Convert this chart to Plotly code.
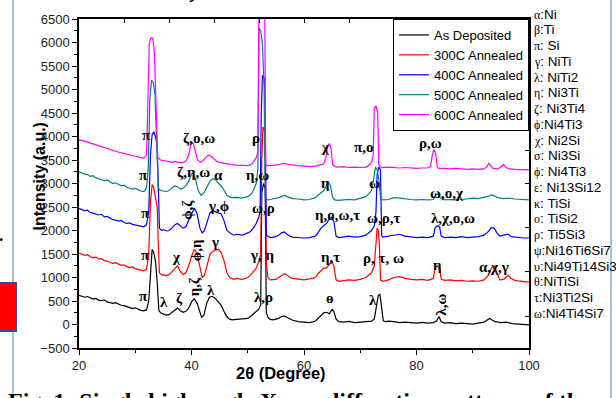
import plotly.graph_objects as go

# ---------------- data ----------------
as_deposited = [
    (20, 620), (20.5, 600), (21, 580), (21.5, 595), (22, 560), (22.5, 540), (23, 555), (23.5, 520),
    (24, 510), (24.5, 525), (25, 480), (25.5, 470), (26, 450), (26.5, 465), (27, 430), (27.5, 410),
    (28, 400), (28.5, 380), (29, 360), (29.5, 340), (30, 355), (30.5, 320), (31, 300), (31.5, 290),
    (32, 310), (32.4, 500), (32.7, 1200), (33.0, 1600), (33.3, 1520), (33.6, 1350), (33.9, 900),
    (34.2, 300), (34.5, 250), (35, 230), (35.5, 200), (36, 210), (36.5, 260), (37, 320), (37.5, 350),
    (38, 300), (38.5, 260), (39, 280), (39.5, 350), (40, 480), (40.5, 550), (41, 450), (41.5, 250),
    (41.8, 150), (42.2, 200), (42.7, 450), (43.2, 580), (43.7, 600), (44.2, 560), (44.7, 500),
    (45.2, 420), (45.7, 300), (46.2, 180), (46.7, 120), (47.2, 100), (48, 110), (49, 120), (50, 130),
    (50.5, 170), (51, 230), (51.5, 280), (52, 330), (52.3, 420), (52.5, 2800), (52.8, 3000),
    (53.1, 2900), (53.3, 250), (53.6, 150), (54, 110), (54.5, 100), (55, 115), (55.5, 130),
    (56, 170), (56.5, 185), (57, 150), (57.5, 120), (58, 90), (59, 60), (60, 50), (61, 40), (62, 70),
    (62.5, 130), (63, 200), (63.5, 250), (64, 260), (64.5, 230), (65, 320), (65.3, 280), (65.7, 120),
    (66.2, 60), (67, 50), (68, 65), (69, 40), (70, 50), (71, 60), (72, 70), (72.5, 120), (72.9, 400),
    (73.2, 620), (73.5, 640), (73.8, 350), (74.1, 80), (74.5, 60), (75, 70), (76, 60), (77, 40),
    (78, 50), (79, 40), (80, 30), (81, 45), (82, 30), (83, 40), (83.6, 80), (84, 170), (84.4, 60),
    (85, 30), (86, 40), (87, 20), (88, 30), (89, 20), (90, 10), (91, 30), (92, 50), (92.5, 90),
    (93, 130), (93.5, 90), (94, 60), (95, 40), (96, 50), (97, 20), (98, 10), (99, 0), (100, -10),
]

annealed_300 = [
    (20, 1520), (20.5, 1490), (21, 1470), (21.5, 1485), (22, 1440), (22.5, 1420), (23, 1435),
    (23.5, 1390), (24, 1400), (24.5, 1360), (25, 1350), (25.5, 1320), (26, 1300), (26.5, 1315),
    (27, 1280), (27.5, 1260), (28, 1270), (28.5, 1230), (29, 1210), (29.5, 1225), (30, 1190),
    (30.5, 1170), (31, 1160), (31.5, 1140), (32, 1180), (32.4, 1500), (32.7, 2600), (33.0, 2980),
    (33.3, 2900), (33.6, 2700), (33.9, 2500), (34.1, 1700), (34.3, 1100), (34.7, 1050), (35, 1060),
    (35.5, 1040), (36, 1060), (36.5, 1120), (37, 1180), (37.5, 1250), (38, 1130), (38.5, 1060),
    (39, 1100), (39.5, 1250), (40, 1450), (40.5, 1600), (41, 1500), (41.5, 1200), (41.9, 1000),
    (42.3, 1050), (42.8, 1300), (43.3, 1500), (43.8, 1560), (44.3, 1580), (44.8, 1600), (45.3, 1520),
    (45.8, 1350), (46.3, 1100), (46.8, 1000), (47.5, 960), (48, 980), (49, 960), (50, 1000),
    (50.5, 1050), (51, 1120), (51.5, 1200), (52, 1350), (52.3, 1500), (52.5, 3500), (52.7, 4200),
    (52.9, 4150), (53.1, 4000), (53.3, 1300), (53.6, 1000), (54, 950), (55, 960), (55.5, 1000),
    (56, 1050), (56.5, 1080), (57, 1050), (57.5, 1000), (58, 980), (59, 960), (60, 950), (61, 970),
    (62, 1000), (62.5, 1080), (63, 1150), (63.5, 1200), (64, 1200), (64.5, 1300), (64.9, 1350),
    (65.3, 1250), (65.7, 950), (66.2, 920), (67, 930), (68, 950), (69, 940), (70, 960), (71, 1000),
    (71.5, 1050), (72, 1100), (72.5, 1250), (72.8, 1700), (73.0, 2050), (73.2, 2000), (73.4, 1700),
    (73.6, 950), (74, 920), (75, 950), (76, 1000), (77, 1020), (78, 980), (79, 960), (80, 950),
    (81, 960), (82, 940), (83, 980), (83.3, 1200), (83.7, 1250), (84.1, 1200), (84.4, 960),
    (85, 940), (86, 950), (87, 930), (88, 940), (89, 920), (90, 930), (91, 920), (92, 950),
    (92.8, 1050), (93.3, 1200), (93.8, 1250), (94.3, 1100), (94.8, 950), (95.5, 960), (96.3, 1050),
    (96.8, 980), (97.5, 940), (98, 930), (99, 910), (100, 900),
]

annealed_400 = [
    (20, 2470), (20.5, 2440), (21, 2420), (21.5, 2435), (22, 2380), (22.5, 2370), (23, 2350),
    (23.5, 2330), (24, 2345), (24.5, 2290), (25, 2300), (25.5, 2260), (26, 2230), (26.5, 2220),
    (27, 2200), (27.5, 2215), (28, 2170), (28.5, 2150), (29, 2160), (29.5, 2130), (30, 2120),
    (30.5, 2100), (31, 2090), (31.5, 2080), (32, 2120), (32.4, 2400), (32.7, 3600), (33.0, 4050),
    (33.3, 4100), (33.6, 4000), (33.9, 3800), (34.1, 2500), (34.3, 2050), (34.7, 2000), (35, 2020),
    (35.5, 1990), (36, 2000), (36.5, 2050), (37, 2120), (37.5, 2150), (38, 2100), (38.5, 2050),
    (39, 2080), (39.5, 2200), (40, 2350), (40.5, 2480), (41, 2350), (41.5, 2050), (41.9, 1950),
    (42.3, 2000), (42.8, 2200), (43.3, 2380), (43.8, 2420), (44.3, 2400), (44.8, 2380), (45.3, 2350),
    (45.8, 2200), (46.3, 2000), (46.8, 1950), (47.5, 1900), (48, 1920), (49, 1900), (50, 1950),
    (50.5, 1980), (51, 2050), (51.5, 2150), (52, 2300), (52.2, 2400), (52.4, 4500), (52.6, 5300),
    (52.8, 5280), (53.0, 5200), (53.3, 1900), (53.6, 1880), (54, 1850), (55, 1870), (55.5, 1900),
    (56, 1950), (56.5, 1970), (57, 1920), (57.5, 1880), (58, 1860), (59, 1850), (60, 1840),
    (61, 1850), (62, 1880), (62.5, 1950), (63, 2050), (63.5, 2100), (64, 2150), (64.5, 2250),
    (64.9, 2280), (65.3, 2200), (65.7, 1880), (66.2, 1850), (67, 1860), (68, 1880), (69, 1860),
    (70, 1870), (71, 1900), (71.5, 1950), (72, 2000), (72.5, 2100), (72.8, 2400), (73.0, 3200),
    (73.3, 3350), (73.6, 3300), (73.8, 1900), (74, 1860), (75, 1880), (76, 1900), (77, 1920),
    (78, 1880), (79, 1860), (80, 1850), (81, 1860), (82, 1850), (83, 1880), (83.3, 2050),
    (83.7, 2100), (84.1, 2080), (84.4, 1880), (85, 1850), (86, 1860), (87, 1850), (88, 1870),
    (89, 1850), (90, 1860), (91, 1870), (92, 1900), (92.8, 1980), (93.3, 2060), (93.8, 2050),
    (94.3, 1950), (94.8, 1880), (95.5, 1900), (96.3, 1920), (96.8, 1870), (97.5, 1860), (98, 1850),
    (99, 1840), (100, 1840),
]

annealed_500 = [
    (20, 3250), (20.5, 3220), (21, 3200), (21.5, 3190), (22, 3150), (22.5, 3165), (23, 3120),
    (23.5, 3100), (24, 3080), (24.5, 3060), (25, 3075), (25.5, 3030), (26, 3000), (26.5, 3015),
    (27, 2980), (27.5, 2950), (28, 2965), (28.5, 2920), (29, 2900), (29.5, 2880), (30, 2895),
    (30.5, 2860), (31, 2840), (31.5, 2830), (32, 2900), (32.3, 3300), (32.6, 4800), (32.9, 5200),
    (33.2, 5150), (33.5, 4900), (33.8, 4000), (34.1, 2900), (34.5, 2850), (35, 2840), (35.5, 2830),
    (36, 2850), (36.5, 2900), (37, 2950), (37.5, 2930), (38, 2880), (38.5, 2900), (39, 2950),
    (39.5, 3050), (40, 3200), (40.3, 3230), (40.7, 3100), (41.2, 2850), (41.7, 2750), (42.2, 2800),
    (42.8, 2950), (43.3, 3050), (43.8, 3100), (44.3, 3080), (44.8, 3000), (45.3, 2950),
    (45.8, 2850), (46.3, 2750), (47, 2700), (48, 2705), (49, 2690), (50, 2720), (50.5, 2760),
    (51, 2850), (51.5, 3000), (51.8, 3300), (52.0, 6300), (52.3, 6250), (52.6, 6000), (52.9, 5100),
    (53.1, 2700), (53.5, 2650), (54, 2660), (55, 2680), (55.5, 2700), (56, 2720), (56.5, 2750),
    (57, 2720), (57.5, 2700), (58, 2680), (59, 2670), (60, 2650), (61, 2660), (62, 2700),
    (62.5, 2750), (63, 2800), (63.5, 2850), (64, 2950), (64.3, 3050), (64.7, 2950), (65.1, 2700),
    (65.5, 2650), (66, 2640), (67, 2650), (68, 2660), (69, 2650), (70, 2680), (71, 2720),
    (71.5, 2780), (72, 2850), (72.4, 3100), (72.7, 3350), (73.0, 3300), (73.3, 3100), (73.6, 2700),
    (74, 2650), (75, 2660), (76, 2700), (77, 2690), (78, 2670), (79, 2660), (80, 2650), (81, 2660),
    (82, 2650), (83, 2660), (83.4, 2760), (83.8, 2780), (84.2, 2700), (85, 2650), (86, 2660),
    (87, 2650), (88, 2660), (89, 2680), (90, 2690), (91, 2680), (92, 2700), (92.8, 2730),
    (93.3, 2760), (93.8, 2740), (94.5, 2700), (95.5, 2680), (96.5, 2690), (97.5, 2670),
    (98.5, 2660), (99, 2650), (100, 2650),
]

annealed_600 = [
    (20, 3930), (20.5, 3920), (21, 3900), (21.5, 3880), (22, 3860), (22.5, 3850), (23, 3820),
    (23.5, 3800), (24, 3790), (24.5, 3760), (25, 3750), (25.5, 3720), (26, 3700), (26.5, 3690),
    (27, 3670), (27.5, 3650), (28, 3640), (28.5, 3620), (29, 3600), (29.5, 3590), (30, 3580),
    (30.5, 3560), (31, 3550), (31.5, 3540), (32, 3600), (32.2, 4500), (32.5, 6000), (32.8, 6100),
    (33.1, 6100), (33.4, 5800), (33.7, 4500), (34.0, 3550), (34.5, 3500), (35, 3490), (35.5, 3470),
    (36, 3460), (36.5, 3450), (37, 3470), (37.5, 3460), (38, 3440), (38.5, 3450), (39, 3480),
    (39.5, 3600), (39.9, 3850), (40.3, 3860), (40.7, 3700), (41.1, 3500), (41.6, 3450), (42, 3480),
    (42.5, 3550), (43, 3600), (43.5, 3580), (44, 3520), (44.5, 3470), (45, 3450), (46, 3420),
    (47, 3400), (48, 3390), (49, 3380), (50, 3380), (50.5, 3400), (51, 3450), (51.5, 3550),
    (51.8, 3650), (52.0, 7000), (52.5, 7000), (53.0, 7000), (53.2, 3400), (53.5, 3380), (54, 3380),
    (55, 3390), (55.5, 3400), (56, 3420), (56.5, 3430), (57, 3410), (57.5, 3400), (58, 3390),
    (59, 3380), (60, 3370), (61, 3360), (62, 3370), (62.5, 3380), (63, 3400), (63.5, 3420),
    (63.9, 3550), (64.2, 3800), (64.5, 3850), (64.8, 3750), (65.1, 3400), (65.5, 3360), (66, 3350),
    (67, 3360), (68, 3340), (69, 3350), (70, 3340), (71, 3350), (71.5, 3380), (72, 3450),
    (72.3, 3600), (72.5, 4600), (72.8, 4650), (73.1, 4500), (73.3, 3400), (73.6, 3350), (74, 3340),
    (75, 3350), (76, 3340), (77, 3330), (78, 3340), (79, 3330), (80, 3320), (81, 3330), (82, 3330),
    (82.5, 3360), (82.8, 3600), (83.1, 3720), (83.4, 3650), (83.7, 3350), (84, 3320), (85, 3320),
    (86, 3310), (87, 3320), (88, 3310), (89, 3300), (90, 3310), (91, 3300), (92, 3310), (92.5, 3350),
    (92.8, 3430), (93.1, 3380), (93.6, 3320), (94.5, 3310), (95.2, 3360), (95.5, 3400), (95.9, 3340),
    (96.5, 3310), (97.5, 3300), (98.5, 3290), (99, 3300), (100, 3290),
]

series_data = [as_deposited, annealed_300, annealed_400, annealed_500, annealed_600]
series_names = ["As Deposited", "300C Annealed", "400C Annealed", "500C Annealed", "600C Annealed"]
series_colors = ["#000000", "#ff0000", "#0000ff", "#008080", "#ff00ff"]

x_tick_vals = [20, 40, 60, 80, 100]
y_tick_vals = [-500, 0, 500, 1000, 1500, 2000, 2500, 3000, 3500, 4000, 4500, 5000, 5500, 6000, 6500]
top_tick_vals = [28, 36, 44, 52, 60, 68, 76, 84, 92, 100]
right_tick_vals = [180, 1120, 2070, 3010, 3710]

# peak labels: (text, 2theta, intensity, angle)
peak_labels = [
    ("π", 32.0, 4030, 0), ("ζ,ο,ω", 41.4, 3970, 0), ("ρ", 51.4, 3970, 0),
    ("χ", 63.8, 3780, 0), ("π,ο", 70.6, 3780, 0), ("ρ,ω", 82.5, 3860, 0),
    ("π", 31.5, 3180, 0), ("ζ,η,ω", 40.3, 3245, 0), ("α", 44.8, 3180, 0), ("η,ω", 51.7, 3180, 0),
    ("η", 63.8, 3010, 0), ("ω", 72.6, 3010, 0), ("ω,ο,χ", 85.5, 2800, 0),
    ("π", 31.8, 2370, 0), ("ϕ,ζ", 39.2, 2440, -90), ("γ,ϕ", 44.8, 2520, 0), ("ω,ρ", 52.8, 2480, 0),
    ("η,ο,ω,τ", 66.0, 2330, 0), ("ω,ρ,τ", 74.2, 2270, 0), ("λ,χ,ο,ω", 86.4, 2270, 0),
    ("π", 31.8, 1480, 0), ("χ", 37.4, 1440, 0), ("ϕ,η", 40.7, 1590, -90), ("γ", 44.2, 1755, 0),
    ("γ, η", 52.6, 1480, 0), ("η,τ", 64.7, 1440, 0), ("ρ, τ, ω", 74.2, 1415, 0),
    ("η", 83.8, 1266, 0), ("α,χ,γ", 93.8, 1223, 0),
    ("π", 31.4, 606, 0), ("λ", 35.1, 480, 0), ("ζ", 37.8, 564, 0), ("η,ζ", 40.5, 800, -90),
    ("λ", 43.4, 734, 0), ("λ,ρ", 52.8, 585, 0), ("ɵ", 64.7, 564, 0), ("λ", 72.2, 520, 0),
    ("λ,ω", 84.3, 415, -90),
]

phase_keys = [
    "α:Ni", "β:Ti", "π: Si", "γ: NiTi", "λ: NiTi2", "η: Ni3Ti", "ζ: Ni3Ti4", "ϕ:Ni4Ti3",
    "χ: Ni2Si", "σ: Ni3Si", "ϕ: Ni4Ti3", "ε: Ni13Si12", "κ: TiSi", "ο: TiSi2", "ρ: Ti5Si3",
    "ψ:Ni16Ti6Si7", "υ:Ni49Ti14Si3", "θ:NiTiSi", "τ:Ni3Ti2Si", "ω:Ni4Ti4Si7",
]

# ---------------- figure ----------------
W, H = 616, 398
L, R, T, B = 79, 529, 19, 348


def px_x(p):
    return (p - L) / (R - L)


def px_y(p):
    return (B - p) / (B - T)


fig = go.Figure()
for data, name, color in zip(series_data, series_names, series_colors):
    fig.add_trace(go.Scatter(
        x=[d[0] for d in data], y=[d[1] for d in data], mode="lines", name=name,
        line=dict(color=color, width=1.2),
    ))

# dummy trace to show mirrored top/right axes
fig.add_trace(go.Scatter(x=[None], y=[None], xaxis="x2", yaxis="y2", showlegend=False,
                         hoverinfo="skip"))

font_main = "Arial, Liberation Sans, sans-serif"
serif = "Liberation Serif, Times New Roman, serif"

annotations = []
for text, xv, yv, ang in peak_labels:
    annotations.append(dict(
        x=xv, y=yv, xref="x", yref="y", text="<b>%s</b>" % text, showarrow=False,
        textangle=ang, font=dict(family=serif, size=15, color="black"),
        xanchor="center", yanchor="middle",
    ))

for i, key in enumerate(phase_keys):
    sym, rest = key[0], key[1:]
    txt = '<span style="font-family:Liberation Serif;font-size:12px">%s</span>%s' % (sym, rest)
    annotations.append(dict(
        x=px_x(532), y=px_y(14 + i * 15.75), xref="paper", yref="paper", text=txt,
        showarrow=False, xanchor="left", yanchor="middle",
        font=dict(family=font_main, size=13.5, color="black"),
    ))

# axis titles
annotations.append(dict(x=px_x(28), y=px_y(177), xref="paper", yref="paper",
                        text="<b>Intensity (a.u.)</b>", showarrow=False, textangle=-90,
                        font=dict(family=font_main, size=16, color="black")))
# caption partially cut off at the bottom
annotations.append(dict(x=px_x(6), y=px_y(386), xref="paper", yref="paper",
                        text="<b>Fig. 1: Single high angle X-ray diffraction patterns of the coating lines</b>",
                        showarrow=False, xanchor="left", yanchor="top",
                        font=dict(family=serif, size=24, color="black")))
annotations.append(dict(x=px_x(281), y=px_y(384), xref="paper", yref="paper",
                        text="<b>2θ (Degree)</b>", showarrow=False,
                        font=dict(family=font_main, size=16.5, color="black")))
# cut-off title descender at top
annotations.append(dict(x=px_x(187), y=px_y(-9), xref="paper", yref="paper",
                        text="y", showarrow=False, yanchor="middle",
                        font=dict(family=font_main, size=20, color="black")))

shapes = [
    dict(type="line", xref="paper", yref="paper", x0=px_x(13), x1=px_x(13), y0=px_y(0), y1=px_y(398),
         line=dict(color="#8fa9d6", width=1.5)),
    dict(type="line", xref="paper", yref="paper", x0=px_x(611), x1=px_x(611), y0=px_y(0), y1=px_y(398),
         line=dict(color="#8fa9d6", width=1.5)),
    dict(type="rect", xref="paper", yref="paper", x0=px_x(-4), x1=px_x(16), y0=px_y(283), y1=px_y(331),
         fillcolor="#ff0000", line=dict(color="#2f4f8f", width=2)),
    dict(type="circle", xref="paper", yref="paper", x0=px_x(0), x1=px_x(2.5), y0=px_y(238), y1=px_y(241),
         fillcolor="black", line=dict(width=0)),
]

fig.update_layout(
    width=W, height=H,
    margin=dict(l=L, r=W - R, t=T, b=H - B, pad=0),
    paper_bgcolor="white", plot_bgcolor="white",
    font=dict(family=font_main, size=13, color="#222"),
    showlegend=True,
    legend=dict(x=1, y=1, xanchor="right", yanchor="top", bgcolor="white",
                bordercolor="black", borderwidth=1, font=dict(family=font_main, size=13, color="black"),
                tracegroupgap=0, itemwidth=30),
    xaxis=dict(range=[20, 100], tickvals=x_tick_vals, ticks="outside", ticklen=5, tickwidth=1,
               tickcolor="black", showline=True, linecolor="black", linewidth=1.5, showgrid=False,
               zeroline=False, automargin=False, tickfont=dict(size=13, color="#222"),
               minor=dict(tickvals=[30, 50, 70, 90], ticks="outside", ticklen=3, tickcolor="black")),
    yaxis=dict(range=[-500, 6500], tickvals=y_tick_vals, ticks="outside", ticklen=5, tickwidth=1,
               tickcolor="black", showline=True, linecolor="black", linewidth=1.5, showgrid=False,
               zeroline=False, automargin=False, tickfont=dict(size=13, color="#222"),
               minor=dict(dtick=250, tick0=-500, ticks="outside", ticklen=3, tickcolor="black")),
    xaxis2=dict(range=[20, 100], overlaying="x", side="top", tickvals=top_tick_vals, ticks="inside",
                ticklen=4, tickcolor="black", showticklabels=False, showline=True, linecolor="black",
                linewidth=1.5, showgrid=False, zeroline=False),
    yaxis2=dict(range=[-500, 6500], overlaying="y", side="right", tickvals=right_tick_vals,
                ticks="inside", ticklen=4, tickcolor="black", showticklabels=False, showline=True,
                linecolor="black", linewidth=1.5, showgrid=False, zeroline=False),
    annotations=annotations,
    shapes=shapes,
)

fig.write_html(
    "out.html",
    config={"displayModeBar": False},
    post_script="document.body.style.margin='0';document.body.style.padding='0';"
                "document.body.style.overflow='hidden';",
)
